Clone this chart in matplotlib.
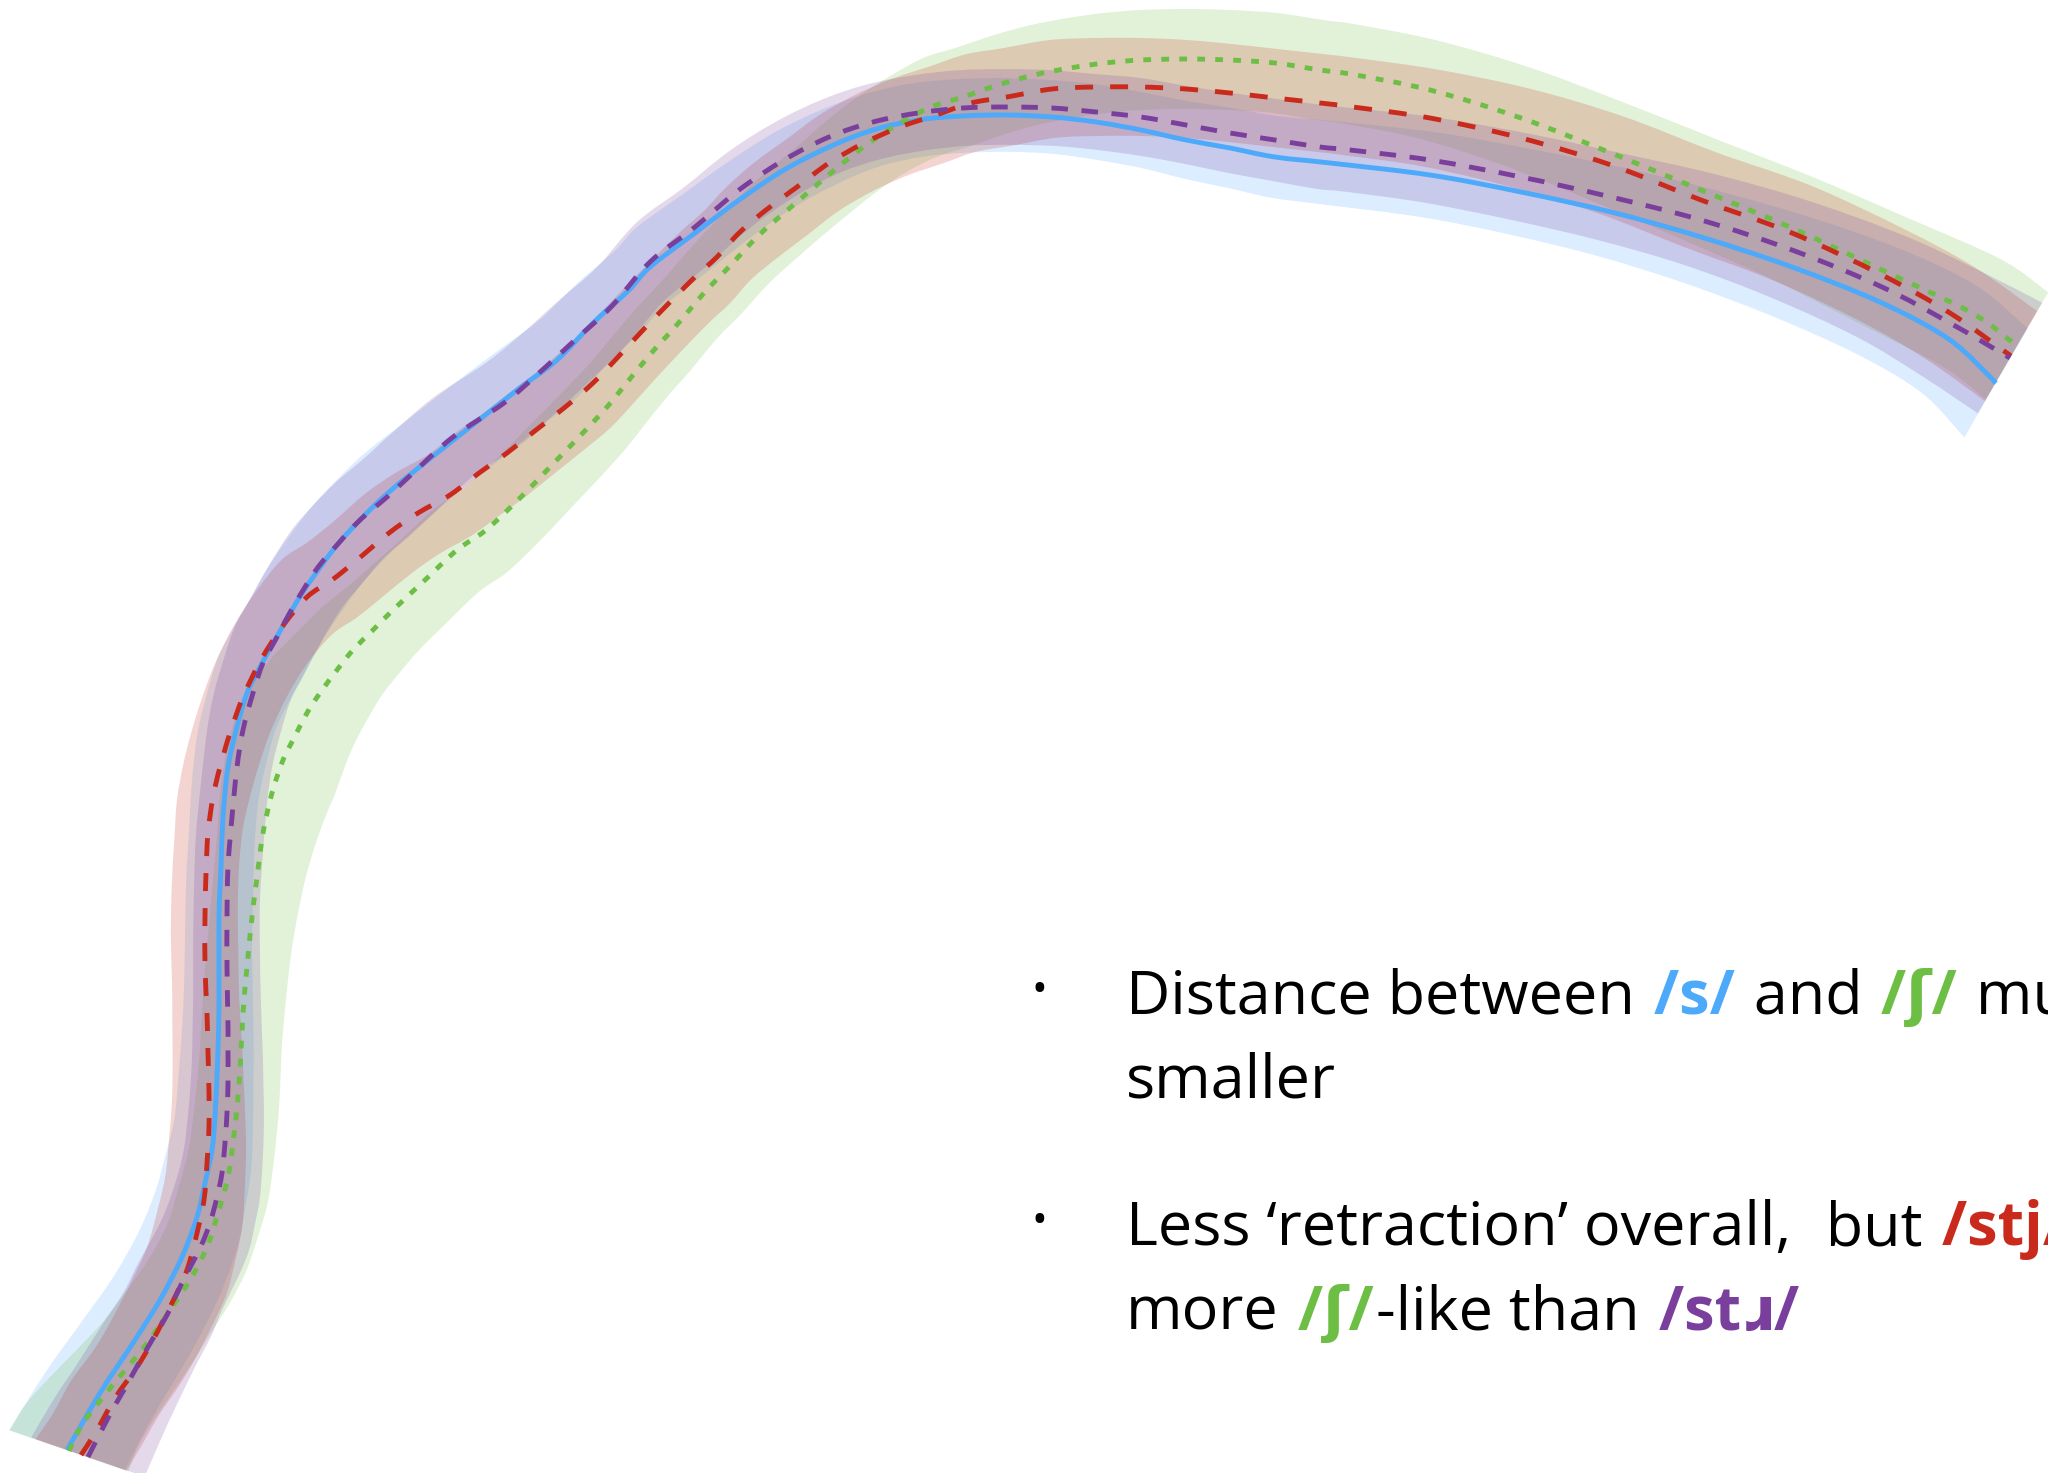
import matplotlib.pyplot as plt
import numpy as np
from matplotlib.path import Path
from matplotlib.patches import PathPatch

# polar origin of the tongue contours (probe), in plot units
origin_x, origin_y = 1156, 1825

# /s/ mean contour and half width of its band
s_x = [67, 100, 133, 160, 182, 197, 205, 212, 215, 218, 219, 219, 221, 223, 228, 237, 247, 260, 275, 301,
       333, 360, 389, 432, 479, 521, 557, 593, 629, 650, 695, 739, 784, 829, 873, 918, 962, 1007, 1052, 1096,
       1141, 1186, 1230, 1275, 1330, 1430, 1521, 1611, 1701, 1792, 1882, 1950, 1996]
s_y = [1450, 1393, 1343, 1300, 1257, 1217, 1183, 1150, 1117, 1050, 1000, 917, 867, 817, 767, 727, 693, 667, 640, 595,
       550, 520, 492, 457, 420, 387, 360, 323, 290, 267, 233, 200, 170, 147, 130, 120, 116, 115, 117, 122,
       130, 140, 148, 157, 163, 175, 192, 212, 237, 267, 303, 340, 383]
s_w = [61, 58, 55, 52, 50, 49, 48, 47, 47, 46, 46, 46, 46, 46, 46, 46, 46, 46, 46, 46,
       46, 46, 46, 45, 45, 44, 44, 43, 42, 42, 41, 40, 39, 38, 37, 37, 37, 37, 37, 38,
       38, 39, 40, 41, 42, 43, 44, 46, 49, 53, 57, 60, 63]

# /stj/
stj_x = [81, 97, 115, 137, 153, 172, 187, 197, 204, 207, 209, 209, 208, 207, 205, 205, 206, 208, 213, 220,
         230, 243, 261, 282, 307, 332, 357, 389, 418, 450, 479, 507, 536, 564, 593, 618, 643, 672, 695, 717,
         739, 766, 797, 829, 864, 900, 936, 971, 1007, 1052, 1096, 1141, 1186, 1230, 1275, 1320, 1353, 1430,
         1521, 1611, 1701, 1792, 1882, 1950, 2011]
stj_y = [1455, 1430, 1398, 1367, 1340, 1303, 1270, 1233, 1200, 1163, 1127, 1093, 1053, 1013, 967, 917, 873, 833, 797, 767,
         733, 697, 660, 627, 597, 580, 560, 533, 513, 495, 473, 453, 430, 408, 383, 357, 330, 300, 277, 257,
         233, 210, 187, 163, 143, 127, 115, 103, 97, 89, 87, 87, 89, 93, 98, 103, 107, 118,
         138, 165, 200, 233, 275, 313, 356]
stj_w = [48, 47, 47, 46, 46, 46, 46, 46, 46, 46, 46, 46, 46, 46, 46, 46, 45, 45, 44, 44,
         44, 44, 44, 44, 45, 45, 45, 46, 46, 46, 47, 47, 47, 47, 48, 48, 48, 48, 48, 48,
         48, 49, 49, 49, 49, 49, 49, 49, 49, 49, 49, 49, 49, 49, 49, 49, 49, 49,
         50, 50, 50, 51, 51, 52, 52]

# /ʃ/
sh_x = [69, 82, 103, 127, 148, 170, 190, 207, 218, 228, 233, 237, 240, 243, 247, 252, 257, 263, 272, 283,
        293, 307, 320, 337, 353, 373, 393, 425, 457, 486, 521, 550, 579, 607, 629, 654, 675, 704, 729, 757,
        784, 811, 838, 869, 900, 931, 963, 998, 1034, 1070, 1105, 1141, 1186, 1230, 1275, 1320, 1350, 1430,
        1521, 1611, 1701, 1792, 1882, 1972, 2017]
sh_y = [1451, 1425, 1397, 1368, 1342, 1310, 1280, 1247, 1213, 1177, 1143, 1107, 1070, 1013, 967, 917, 877, 833, 793, 760,
        740, 713, 693, 670, 650, 630, 610, 580, 550, 530, 497, 467, 437, 407, 380, 350, 327, 293, 267, 237,
        213, 190, 167, 143, 123, 107, 97, 85, 75, 68, 63, 60, 59, 60, 63, 70, 74, 90,
        118, 153, 190, 228, 270, 313, 346]
sh_w = [63, 60, 56, 52, 49, 47, 46, 46, 47, 48, 49, 50, 51, 52, 53, 55, 58, 63, 67, 69,
        68, 64, 60, 56, 53, 50, 48, 47, 47, 47, 47, 47, 47, 47, 47, 47, 47, 47, 48, 48,
        48, 48, 49, 49, 49, 50, 50, 50, 50, 50, 50, 50, 50, 50, 50, 50, 50, 50,
        51, 52, 53, 55, 58, 61, 62]

# /stɹ/
str_x = [88, 108, 125, 148, 167, 180, 200, 210, 217, 222, 225, 227, 228, 228, 228, 227, 227, 228, 232, 237,
         243, 253, 263, 277, 293, 316, 337, 360, 387, 413, 453, 504, 539, 575, 611, 650, 695, 739, 784, 829,
         873, 918, 963, 1007, 1052, 1096, 1141, 1186, 1230, 1275, 1320, 1350, 1430, 1521, 1611, 1701, 1792,
         1882, 1950, 2010]
str_y = [1457, 1418, 1388, 1347, 1315, 1287, 1248, 1223, 1197, 1173, 1143, 1113, 1083, 1053, 1027, 967, 917, 867, 817, 767,
         730, 693, 663, 637, 607, 570, 545, 520, 497, 473, 437, 403, 373, 340, 307, 262, 227, 190, 160, 137,
         122, 113, 108, 107, 108, 112, 117, 125, 133, 140, 147, 150, 160, 177, 197, 220, 250,
         287, 323, 358]
str_w = [60, 57, 54, 51, 49, 48, 47, 47, 46, 46, 46, 46, 46, 46, 46, 46, 46, 46, 46, 46,
         46, 46, 46, 46, 46, 46, 46, 45, 45, 45, 44, 44, 43, 43, 42, 42, 41, 40, 39, 38,
         38, 38, 38, 38, 38, 38, 39, 39, 40, 41, 42, 42, 43, 44, 45, 48, 52,
         56, 60, 64]

blue = '#4DA9FA'
red = '#C92A1C'
green = '#6DBE45'
purple = '#7A3F9D'

groups = [
    (s_x, s_y, s_w, blue, None),
    (sh_x, sh_y, sh_w, green, (1.6, 2.1)),
    (stj_x, stj_y, stj_w, red, (3.7, 3.5)),
    (str_x, str_y, str_w, purple, (3.4, 2.8)),
]


def bezier_through(pts):
    # cubic segments passing through every point (Catmull-Rom tangents)
    n = len(pts)
    verts, codes = [], []
    for i in range(n - 1):
        p0 = pts[max(i - 1, 0)]
        p1, p2 = pts[i], pts[i + 1]
        p3 = pts[min(i + 2, n - 1)]
        verts += [p1 + (p2 - p0) / 6, p2 - (p3 - p1) / 6, p2]
        codes += [Path.CURVE4] * 3
    return verts, codes


def contour_path(xs, ys):
    pts = np.column_stack([xs, ys]).astype(float)
    v, c = bezier_through(pts)
    return Path([pts[0]] + v, [Path.MOVETO] + c)


def band_path(xs, ys, ws):
    xs = np.asarray(xs, float)
    ys = np.asarray(ys, float)
    ws = np.asarray(ws, float)
    r = np.hypot(xs - origin_x, origin_y - ys)
    th = np.arctan2(origin_y - ys, xs - origin_x)
    outer = np.column_stack([origin_x + (r + ws) * np.cos(th), origin_y - (r + ws) * np.sin(th)])
    inner = np.column_stack([origin_x + (r - ws) * np.cos(th), origin_y - (r - ws) * np.sin(th)])[::-1]
    vo, co = bezier_through(outer)
    vi, ci = bezier_through(inner)
    verts = [outer[0]] + vo + [inner[0]] + vi + [outer[0]]
    codes = [Path.MOVETO] + co + [Path.LINETO] + ci + [Path.CLOSEPOLY]
    return Path(verts, codes)


fig = plt.figure(figsize=(20.48, 14.73), dpi=100)
ax = fig.add_axes([0, 0, 1, 1])
ax.set_xlim(0, 2048)
ax.set_ylim(1473, 0)
ax.axis('off')

for xs, ys, ws, col, dash in groups:
    ax.add_patch(PathPatch(band_path(xs, ys, ws), facecolor=col, alpha=0.2, linewidth=0))

for xs, ys, ws, col, dash in groups:
    ls = '-' if dash is None else (0, dash)
    p = PathPatch(contour_path(xs, ys), fill=False, edgecolor=col, lw=3.5, linestyle=ls,
                  capstyle='butt', joinstyle='round')
    ax.add_patch(p)

# text on the right
fam = ['Open Sans', 'DejaVu Sans']
fs = 44
text_lines = [
    (1014, [("Distance between", 'black', 'normal'), (" /s/", blue, 'bold'), (" and", 'black', 'normal'),
            (" /ʃ/", green, 'bold'), (" much", 'black', 'normal')]),
    (1098, [("smaller", 'black', 'normal')]),
    (1245, [("Less ‘retraction’ overall,", 'black', 'normal'), ("  but", 'black', 'normal'),
            (" /stj/", red, 'bold'), (" is", 'black', 'normal')]),
    (1330, [("more", 'black', 'normal'), (" /ʃ/", green, 'bold'), ("-like than", 'black', 'normal'),
            (" /stɹ/", purple, 'bold')]),
]
bullet_y = [1002, 1233]

renderer = fig.canvas.get_renderer()
for by_ in bullet_y:
    ax.text(1039, by_, "•", fontsize=30, family=fam, ha='center', va='baseline', color='black')

for y, runs in text_lines:
    x = 1126
    for s, col, wt in runs:
        t = ax.text(x, y, s, fontsize=fs, family=fam, color=col, fontweight=wt, va='baseline', ha='left')
        bb = t.get_window_extent(renderer=renderer)
        x = ax.transData.inverted().transform((bb.x1, bb.y0))[0] + 3

fig.savefig('out.png', dpi=100)
